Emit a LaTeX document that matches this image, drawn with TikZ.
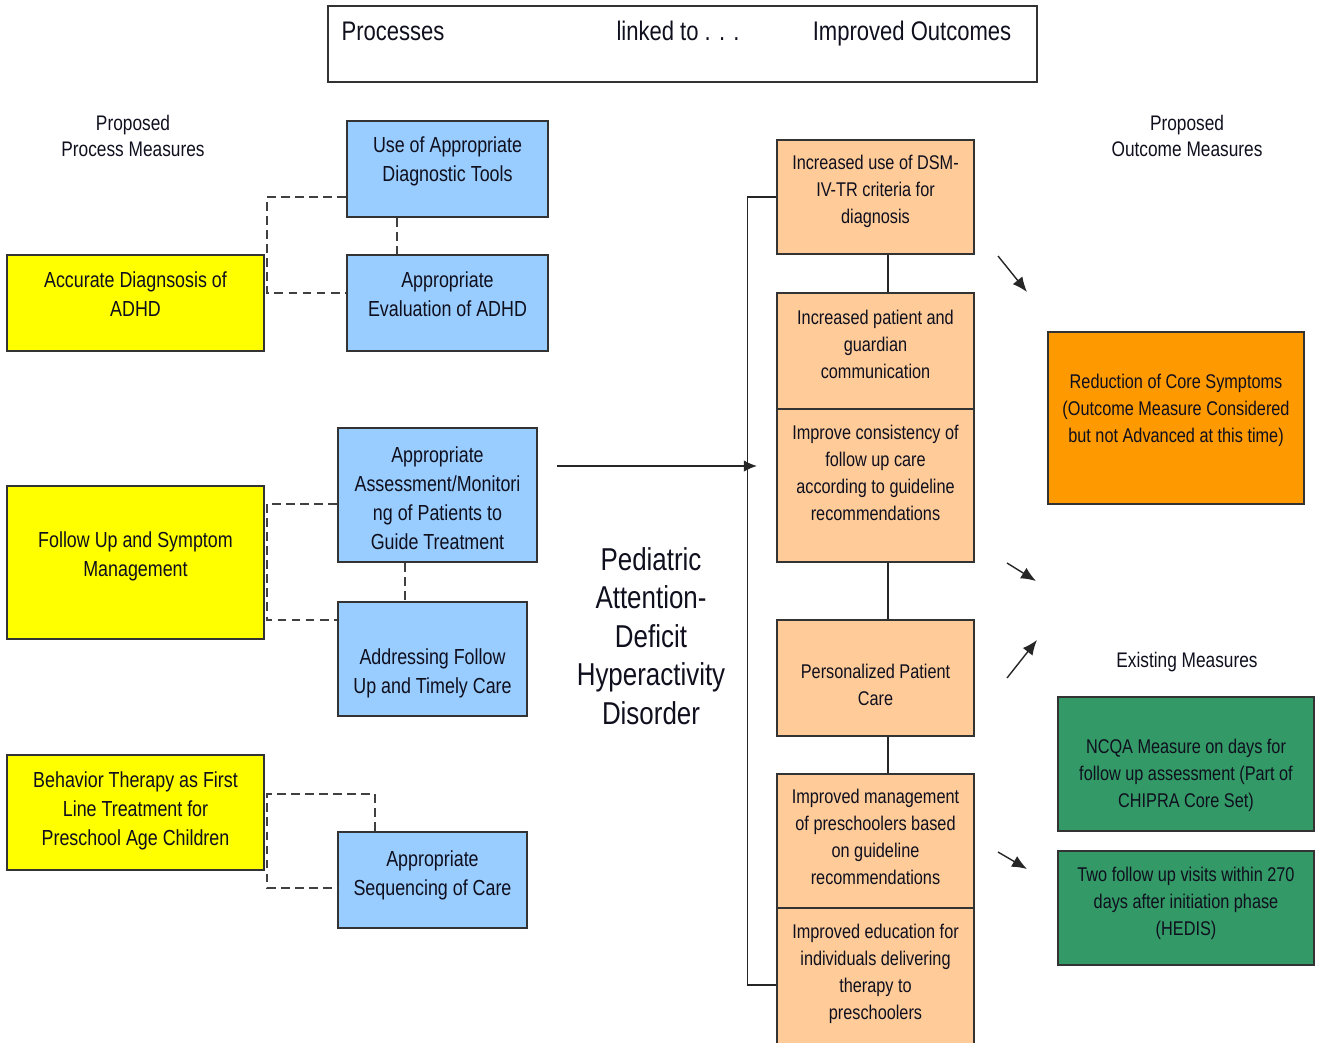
\documentclass[tikz,border=0pt]{standalone}
\usepackage{fontspec}
\setmainfont[FakeStretch=0.82]{Liberation Sans}
\usepackage{tikz}
\usetikzlibrary{arrows.meta}
\definecolor{procblue}{RGB}{153,204,255}
\definecolor{aimyellow}{RGB}{255,255,0}
\definecolor{outpeach}{RGB}{255,204,153}
\definecolor{coreorange}{RGB}{255,153,0}
\definecolor{measgreen}{RGB}{51,153,102}
\definecolor{inkdark}{RGB}{15,15,30}

\begin{document}
\begin{tikzpicture}[>={Latex[length=7.5pt,width=6.5pt]}, x=0.02cm, y=-0.02cm, text=inkdark,
	box/.style={draw=black!80, line width=0.9pt, align=center, inner sep=0pt, anchor=base},
	procbox/.style={box, fill=procblue, font=\fontsize{12.4}{16.5}\selectfont},
	aimbox/.style={box, fill=aimyellow, minimum width=5.14cm, font=\fontsize{12.4}{16.5}\selectfont},
	outbox/.style={box, fill=outpeach, minimum width=3.94cm, font=\fontsize{11.3}{15.2}\selectfont},
	measbox/.style={box, minimum width=5.12cm, font=\fontsize{11.3}{15.2}\selectfont},
	headtext/.style={font=\fontsize{12}{15.3}\selectfont, align=center},
	titletext/.style={font=\fontsize{15.3}{18}\selectfont, anchor=base},
	dashline/.style={dash pattern=on 5pt off 3pt, line width=0.8pt, draw=black!75},
	link/.style={line width=0.8pt, draw=black!85},
	pointer/.style={-{Latex[length=8.5pt,width=7pt]}, line width=0.8pt, draw=black!85}]
		%			\draw [help lines] (0,0) grid (1325,1042);
		\useasboundingbox (0,0) rectangle (1325,1042);
		\node [box, anchor=center, minimum width=14.18cm, minimum height=1.52cm] (head) at (682.5,44) {};
		\node [titletext] (proc) at (393,40) {Processes};
		\node [titletext] (linked) at (678,40) {linked to . . .};
		\node [titletext] (impr) at (912,40) {Improved Outcomes};
		\node [headtext] (procmeas) at (133,136) {Proposed\\Process Measures};
		\node [headtext] (outmeas) at (1187,136) {Proposed\\Outcome Measures};
		\node [headtext] (existmeas) at (1187,662) {Existing Measures};
		% aims
		\node [aimbox, text height=1.22cm, text depth=0.70cm] (accur) at (135.5,316) {Accurate Diagnsosis of\\ADHD};
		\node [aimbox, text height=1.80cm, text depth=1.26cm] (follow) at (135.5,576) {Follow Up and Symptom\\Management};
		\node [aimbox, text height=1.80cm, text depth=0.50cm] (behav) at (135.5,845) {Behavior Therapy as First\\Line Treatment for\\Preschool Age Children};
		% processes
		\node [procbox, minimum width=4.02cm, text height=1.20cm, text depth=0.72cm] (diag) at (447.5,181) {Use of Appropriate\\Diagnostic Tools};
		\node [procbox, minimum width=4.02cm, text height=1.22cm, text depth=0.70cm] (evalb) at (447.5,316) {Appropriate\\Evaluation of ADHD};
		\node [procbox, minimum width=3.98cm, text height=2.42cm, text depth=0.26cm] (assess) at (437.5,549) {Appropriate\\Assessment/Monitori\\ng of Patients to\\Guide Treatment};
		\node [procbox, minimum width=3.78cm, text height=1.82cm, text depth=0.46cm] (timely) at (432.5,693) {Addressing Follow\\Up and Timely Care};
		\node [procbox, minimum width=3.78cm, text height=1.26cm, text depth=0.66cm] (seq) at (432.5,895) {Appropriate\\Sequencing of Care};
		\draw [dashline] (diag.west) ++(0,28) -| (267,293) -- (evalb.west |- 0,293);
		\draw [dashline] (diag.south -| 397,0) -- (evalb.north -| 397,0);
		\draw [dashline] (assess.west) ++(0,9) -| (267,620) -- (timely.west |- 0,620);
		\draw [dashline] (assess.south -| 405,0) -- (timely.north -| 405,0);
		\draw [dashline] (seq.north -| 375,0) |- (267,794) |- (seq.west |- 0,888);
		% condition
		\node [font=\fontsize{18}{22}\selectfont, align=center] (adhd) at (651,636) {Pediatric\\Attention-\\Deficit\\Hyperactivity\\Disorder};
		\coordinate (arrS) at (557,466);
		\coordinate (arrE) at (757,466);
		\draw [->, link] (arrS) -- (arrE);
		% outcomes
		\node [outbox, text height=1.66cm, text depth=0.62cm] (dsm) at (875.5,223) {Increased use of DSM-\\IV-TR criteria for\\diagnosis};
		\node [outbox, text height=1.70cm, text depth=0.62cm] (comm) at (875.5,378) {Increased patient and\\guardian\\communication};
		\node [outbox, text height=2.22cm, text depth=0.84cm] (consist) at (875.5,520) {Improve consistency of\\follow up care\\according to guideline\\recommendations};
		\node [outbox, text height=1.70cm, text depth=0.62cm] (person) at (875.5,705) {Personalized Patient\\Care};
		\node [outbox, text height=2.20cm, text depth=0.48cm] (presch) at (875.5,884) {Improved management\\of preschoolers based\\on guideline\\recommendations};
		\node [outbox, text height=2.22cm, text depth=0.62cm] (educ) at (875.5,1019) {Improved education for\\individuals delivering\\therapy to\\preschoolers};
		\draw [link] (dsm.south -| 888,0) -- (comm.north -| 888,0);
		\draw [link] (consist.south -| 888,0) -- (person.north -| 888,0);
		\draw [link] (person.south -| 888,0) -- (presch.north -| 888,0);
		\draw [link] (dsm.west) -- ++(-29,0) |- ([yshift=-0.12cm]educ.west);
		% measures
		\node [measbox, fill=coreorange, text height=2.20cm, text depth=1.24cm] (core) at (1176,442) {Reduction of Core Symptoms\\(Outcome Measure Considered\\but not Advanced at this time)};
		\node [measbox, fill=measgreen, text height=2.20cm, text depth=0.48cm] (ncqa) at (1186,807) {NCQA Measure on days for\\follow up assessment (Part of\\CHIPRA Core Set)};
		\node [measbox, fill=measgreen, text height=1.68cm, text depth=0.60cm] (hedis) at (1186,935) {Two follow up visits within 270\\days after initiation phase\\(HEDIS)};
		\coordinate (p1s) at (998,256); \coordinate (p1e) at (1027,292);
		\coordinate (p2s) at (1007,563); \coordinate (p2e) at (1036,581);
		\coordinate (p3s) at (1007,678); \coordinate (p3e) at (1037,640);
		\coordinate (p4s) at (998,852); \coordinate (p4e) at (1027,869);
		\draw [pointer] (p1s) -- (p1e);
		\draw [pointer] (p2s) -- (p2e);
		\draw [pointer] (p3s) -- (p3e);
		\draw [pointer] (p4s) -- (p4e);
	\end{tikzpicture}
\end{document}
